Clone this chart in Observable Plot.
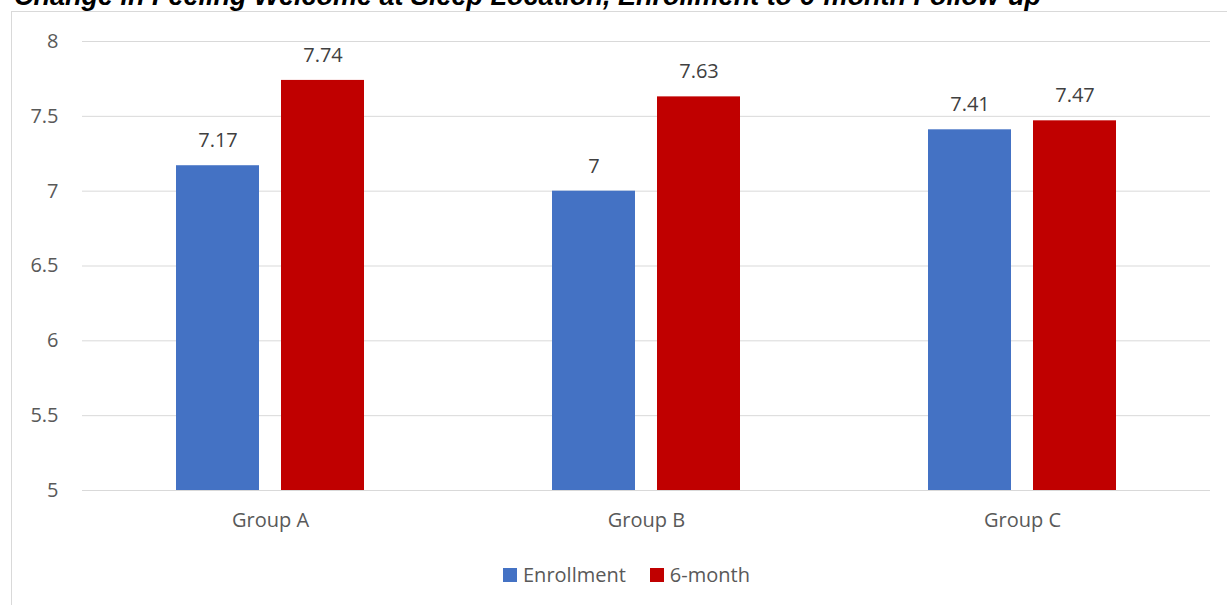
<!DOCTYPE html>
<html>
<head>
<meta charset="utf-8">
<script src="https://cdn.jsdelivr.net/npm/d3@7"></script>
<script src="https://cdn.jsdelivr.net/npm/@observablehq/plot@0.6"></script>
<style>
  html, body { margin: 0; padding: 0; background: #fff; }
  body { width: 1227px; height: 605px; overflow: hidden; position: relative; }
  #title { position: absolute; left: 14px; top: -17px; font: italic bold 27px/27px "Liberation Sans", Arial, sans-serif; color: #000; white-space: nowrap; }
  #frame { position: absolute; left: 11px; top: 11px; width: 1400px; height: 800px; border: 1px solid #d9d9d9; box-sizing: border-box; pointer-events: none; }
  #chart { position: absolute; left: 0; top: 0; }
  #legend { position: absolute; left: 503px; top: 561px; display: flex; align-items: center; font: 20px "Open Sans", sans-serif; color: #595959; }
  .item { display: flex; align-items: center; margin-right: 24px; }
  .sw { width: 14px; height: 14px; margin-right: 6px; }
</style>
</head>
<body>
<div id="title">Change in Feeling Welcome at Sleep Location, Enrollment to 6-month Follow-up</div>
<div id="frame"></div>
<div id="chart"></div>
<div id="legend"></div>
<script>
const groups = ["Group A", "Group B", "Group C"];
const series = ["Enrollment", "6-month"];
const enrollment = [7.17, 7.00, 7.41];
const sixMonth = [7.74, 7.63, 7.47];
const yTicks = [5, 5.5, 6, 6.5, 7, 7.5, 8];
const colors = ["#4472C4", "#C00000"];

const data = [];
groups.forEach((g, i) => {
  data.push({group: g, series: series[0], value: enrollment[i]});
  data.push({group: g, series: series[1], value: sixMonth[i]});
});

const font = '"Open Sans", sans-serif';
const chart = Plot.plot({
  width: 1227,
  height: 545,
  marginLeft: 81,
  marginRight: 16,
  marginTop: 41,
  marginBottom: 55,
  style: {background: "transparent", fontFamily: font},
  fx: {domain: groups, padding: 0, label: null},
  x: {domain: series, paddingInner: 0.2075, paddingOuter: 0.88, axis: null},
  y: {domain: [5, 8], label: null},
  color: {domain: series, range: colors},
  marks: [
    Plot.gridY(yTicks, {stroke: "#d9d9d9", strokeOpacity: 1, strokeWidth: 1}),
    Plot.axisY(yTicks, {tickSize: 0, tickPadding: 24, fontSize: 20, fill: "#595959", label: null, tickFormat: d => String(d)}),
    Plot.axisFx({anchor: "bottom", tickSize: 0, tickPadding: 22, fontSize: 20, fill: "#595959", label: null}),
    Plot.barY(data, {fx: "group", x: "series", y1: 5, y2: "value", fill: "series"}),
    Plot.text(data, {fx: "group", x: "series", y: "value", text: d => String(d.value), dy: -25, fontSize: 20, fill: "#404040"})
  ]
});
document.getElementById("chart").appendChild(chart);

const legend = document.getElementById("legend");
series.forEach((s, i) => {
  const item = document.createElement("div");
  item.className = "item";
  const sw = document.createElement("div");
  sw.className = "sw";
  sw.style.background = colors[i];
  const t = document.createElement("span");
  t.textContent = s;
  item.appendChild(sw);
  item.appendChild(t);
  legend.appendChild(item);
});
</script>
</body>
</html>
